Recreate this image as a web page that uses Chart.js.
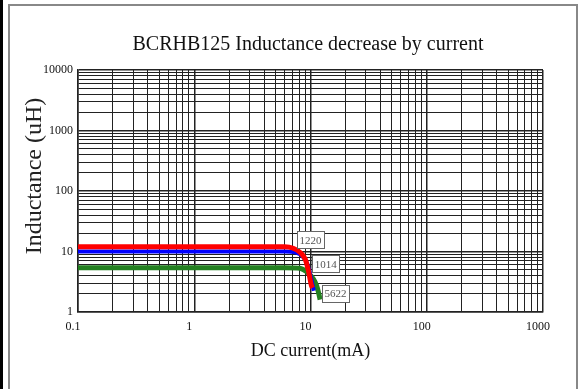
<!DOCTYPE html>
<html>
<head>
<meta charset="utf-8">
<script src="https://cdn.jsdelivr.net/npm/chart.js@4.4.1/dist/chart.umd.min.js"></script>
<style>
  html, body { margin: 0; padding: 0; background: #fff; }
  #wrap { position: relative; width: 584px; height: 389px; overflow: hidden; }
  #bar { position: absolute; left: 0; top: 0; width: 3px; height: 389px; background: #000; }
  #frame { position: absolute; left: 8px; top: 4px; width: 570px; height: 400px;
           border: 2px solid #888; border-bottom: none; box-sizing: border-box; }
  #chart { position: absolute; left: 0; top: 0; }
</style>
</head>
<body>
<div id="wrap">
  <div id="bar"></div>
  <div id="frame"></div>
  <canvas id="chart" width="584" height="389"></canvas>
</div>
<script>
// ============================
// Data
// ============================
const seriesNames = ["1220", "1014", "5622"];

// red (1220)
const redCurrent = [0.1, 6, 7.1, 8.1, 9.0, 9.6, 10.2, 10.4];
const redInductance = [12, 12, 11.3, 9.7, 7.5, 4.8, 2.7, 2.5];

// blue (1014)
const blueCurrent = [0.1, 6, 7.5, 8.5, 9.3, 9.9, 10.5, 10.7];
const blueInductance = [10, 10, 9.6, 8.4, 6.5, 4.3, 2.6, 2.25];

// green (5622)
const greenCurrent = [0.1, 6, 8.1, 9.3, 10.6, 11.3, 11.8, 12.1];
const greenInductance = [5.4, 5.4, 5.3, 4.6, 3.5, 2.7, 2.0, 1.6];

// where each name box sits (data coords)
const labelCurrent = [10, 13.5, 16.4];
const labelInductance = [15.5, 6.3, 2.02];

// axis decades and their labels
const xDecades = [0.1, 1, 10, 100, 1000];
const xTickLabels = ["0.1", "1", "10", "100", "1000"];
const yDecades = [1, 10, 100, 1000, 10000];
const yTickLabels = ["1", "10", "100", "1000", "10000"];

const titleText = "BCRHB125 Inductance decrease by current";
const xTitle = "DC current(mA)";
const yTitle = "Inductance (uH)";

// 1..9 lines in every decade
function logGrid(decades) {
  const out = [];
  for (let i = 0; i < decades.length - 1; i++) {
    for (let k = 1; k < 10; k++) out.push(+(decades[i] * k).toPrecision(3));
  }
  out.push(decades[decades.length - 1]);
  return out;
}

function toPoints(xs, ys) {
  return xs.map((x, i) => ({ x: x, y: ys[i] }));
}

const serif = "'Liberation Serif', 'DejaVu Serif', serif";

// ============================
// Main title + y title (placed off-centre like the original)
// ============================
const headingsPlugin = {
  id: "headings",
  afterDraw(chart) {
    const { ctx } = chart;
    ctx.save();
    ctx.fillStyle = "#111";
    ctx.textAlign = "center";
    ctx.textBaseline = "middle";
    ctx.font = "20px " + serif;
    ctx.fillText(titleText, 308, 45);

    ctx.translate(35, 176);
    ctx.rotate(-Math.PI / 2);
    ctx.font = "24px " + serif;
    ctx.fillStyle = "#222";
    ctx.fillText(yTitle, 0, 0);
    ctx.restore();
  }
};

// ============================
// Boxed series names
// ============================
const nameBoxPlugin = {
  id: "nameBoxes",
  afterDatasetsDraw(chart) {
    const { ctx, scales } = chart;
    ctx.save();
    ctx.font = "11px " + serif;
    ctx.textAlign = "center";
    ctx.textBaseline = "middle";
    seriesNames.forEach((name, i) => {
      const cx = scales.x.getPixelForValue(labelCurrent[i]);
      const cy = scales.y.getPixelForValue(labelInductance[i]);
      const w = ctx.measureText(name).width + 5;
      const h = 17;
      ctx.fillStyle = "#fff";
      ctx.fillRect(cx - w / 2, cy - h / 2, w, h);
      ctx.strokeStyle = "#666";
      ctx.lineWidth = 1;
      ctx.strokeRect(Math.round(cx - w / 2) + 0.5, Math.round(cy - h / 2) + 0.5, Math.round(w), h);
      ctx.fillStyle = "#555";
      ctx.fillText(name, cx, cy + 1);
    });
    ctx.restore();
  }
};

const ctx = document.getElementById("chart").getContext("2d");

const chart = new Chart(ctx, {
  type: "line",
  data: {
    datasets: [
      {
        label: seriesNames[0],
        data: toPoints(redCurrent, redInductance),
        borderColor: "#ff0000",
        borderWidth: 5,
        cubicInterpolationMode: "monotone"
      },
      {
        label: seriesNames[1],
        data: toPoints(blueCurrent, blueInductance),
        borderColor: "#0000ff",
        borderWidth: 4,
        cubicInterpolationMode: "monotone"
      },
      {
        label: seriesNames[2],
        data: toPoints(greenCurrent, greenInductance),
        borderColor: "#238020",
        borderWidth: 5,
        cubicInterpolationMode: "monotone"
      }
    ]
  },
  options: {
    responsive: false,
    animation: false,
    devicePixelRatio: 1,
    elements: { point: { radius: 0 } },
    layout: { padding: { left: 0, right: 41, top: 70, bottom: 0 } },
    plugins: {
      legend: { display: false },
      tooltip: { enabled: false },
      title: { display: false }
    },
    scales: {
      x: {
        type: "logarithmic",
        min: xDecades[0],
        max: xDecades[xDecades.length - 1],
        afterBuildTicks(scale) {
          scale.ticks = logGrid(xDecades).map(v => ({ value: v }));
        },
        afterFit(scale) { scale.height = 77; },
        grid: {
          color: "#222",
          lineWidth: (c) => (xDecades.includes(c.tick && c.tick.value) ? 1.5 : 1),
          drawTicks: false
        },
        border: { color: "#222", width: 1.5 },
        ticks: {
          autoSkip: false,
          maxRotation: 0,
          padding: 8,
          labelOffset: -5,
          color: "#111",
          font: { family: serif, size: 12 },
          callback: (v) => {
            const i = xDecades.indexOf(+v);
            return i >= 0 ? xTickLabels[i] : "";
          }
        },
        title: {
          display: true,
          text: xTitle,
          color: "#111",
          font: { family: serif, size: 18 },
          padding: { top: 0, bottom: 27 }
        }
      },
      y: {
        type: "logarithmic",
        min: yDecades[0],
        max: yDecades[yDecades.length - 1],
        afterBuildTicks(scale) {
          scale.ticks = logGrid(yDecades).map(v => ({ value: v }));
        },
        afterFit(scale) { scale.width = 78; },
        grid: {
          color: "#222",
          lineWidth: (c) => (yDecades.includes(c.tick && c.tick.value) ? 1.5 : 1),
          drawTicks: false
        },
        border: { color: "#222", width: 1.5 },
        ticks: {
          autoSkip: false,
          padding: 5,
          color: "#111",
          font: { family: serif, size: 12 },
          callback: (v) => {
            const i = yDecades.indexOf(+v);
            return i >= 0 ? yTickLabels[i] : "";
          }
        }
      }
    }
  },
  plugins: [nameBoxPlugin, headingsPlugin]
});
</script>
</body>
</html>
